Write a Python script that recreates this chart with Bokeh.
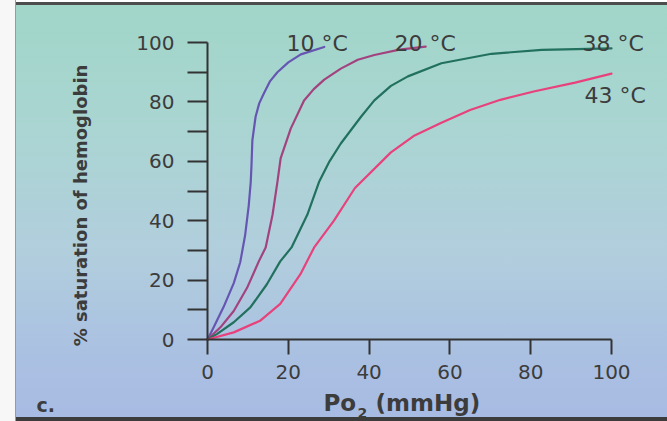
import math
from bokeh.plotting import figure
from bokeh.models import Range1d, FixedTicker, Label
from bokeh.embed import file_html
from bokeh.resources import INLINE

# ---- data ----
x_ticks = [0, 20, 40, 60, 80, 100]
y_ticks = [0, 20, 40, 60, 80, 100]
y_minor = [10, 30, 50, 70, 90]

po2_10 = [0, 1.5, 4.0, 6.5, 8.1, 9.3, 10.2, 10.7, 10.9, 11.1, 11.9, 12.8, 14.0, 15.5, 17.3, 20.0, 23.1, 28.9]
sat_10 = [0, 4, 11, 19, 26, 35, 45, 53, 59, 67, 75, 79.5, 83, 87, 90, 93.3, 96, 98.5]

po2_20 = [0, 3.2, 6.5, 9.8, 12.7, 14.4, 16.1, 17.3, 18.1, 20.6, 23.9, 26.3, 28.9, 33.0, 37.2, 41.3, 47.5, 54.0]
sat_20 = [0, 4.1, 9.6, 17.4, 26.3, 31, 42, 53, 61, 71, 80.5, 84.3, 87.5, 91.2, 94.2, 95.8, 97.6, 98.6]

po2_38 = [0, 2.4, 6.5, 10.6, 14.7, 18.0, 20.8, 24.7, 27.6, 30.2, 33.0, 38.0, 41.3, 45.4, 49.6, 57.9, 70.3, 82.7, 100]
sat_38 = [0, 1.9, 5.8, 10.8, 18.6, 26.3, 31, 42, 53, 60, 66, 75, 80.5, 85.4, 88.6, 93, 96.2, 97.5, 98]

po2_43 = [0, 6.5, 13.0, 18.0, 23.0, 26.4, 31.3, 36.5, 45.4, 51.0, 57.9, 65.0, 72.5, 81.0, 91.0, 100]
sat_43 = [0, 2.4, 6.3, 12, 22, 31, 40, 51, 63, 68.5, 73, 77.3, 80.7, 83.6, 86.5, 89.5]

series_names = ["10 °C", "20 °C", "38 °C", "43 °C"]

# ---- layout / styles ----
W, H = 667, 421
FL, FR, FT, FB = 207, 611, 42, 339          # where data 0..100 sits on the canvas
kx = (FR - FL) / 100.0
ky = (FB - FT) / 100.0

def dx(px):
    return (px - FL) / kx

def dy(py):
    return (FB - py) / ky

text_col = "#3c3c3c"
curve_cols = ["#6656b2", "#a2437f", "#22705e", "#e8417b"]
font = "DejaVu Sans"

p = figure(width=W, height=H,
           x_range=Range1d(dx(0), dx(W)), y_range=Range1d(dy(H), dy(0)),
           output_backend="svg", toolbar_location=None,
           min_border=0, min_border_left=0, min_border_right=0,
           min_border_top=0, min_border_bottom=0)

p.styles = {"background": (
    "linear-gradient(90deg, #f7f7f7 0px, #f7f7f7 15px, #9a9a9a 15px, #9a9a9a 16px, transparent 16px),"
    "linear-gradient(180deg, #ffffff 0px, #ffffff 2px, #4d4d4d 2px, #4d4d4d 5px, transparent 5px),"
    "linear-gradient(0deg, #3c3c3c 0px, #3c3c3c 4px, transparent 4px),"
    "linear-gradient(180deg, #a0d6c8 0%, #aad5d2 30%, #b1cedd 60%, #aac0e2 85%, #a8bbe3 100%)")}
p.background_fill_alpha = 0
p.border_fill_alpha = 0
p.outline_line_color = None
p.grid.visible = False

# axes (drawn at data 0, inside the canvas-wide frame)
p.xaxis.ticker = FixedTicker(ticks=x_ticks)
p.yaxis.ticker = FixedTicker(ticks=y_ticks, minor_ticks=y_minor)
for ax in (p.xaxis[0], p.yaxis[0]):
    ax.fixed_location = 0
    ax.bounds = (0, 100)
    ax.axis_line_color = "#333333"
    ax.axis_line_width = 2
    ax.major_tick_line_color = "#333333"
    ax.major_tick_line_width = 2
    ax.major_tick_in = 0
    ax.major_label_text_font = font
    ax.major_label_text_font_size = "20px"
    ax.major_label_text_color = text_col
p.xaxis.major_tick_out = 15
p.xaxis.minor_tick_line_color = None
p.xaxis.major_label_standoff = 10
p.yaxis.major_tick_out = 20
p.yaxis.minor_tick_out = 20
p.yaxis.minor_tick_in = 0
p.yaxis.minor_tick_line_color = "#333333"
p.yaxis.minor_tick_line_width = 2
p.yaxis.major_label_standoff = 13

# curves
for xs, ys, c in zip([po2_10, po2_20, po2_38, po2_43],
                     [sat_10, sat_20, sat_38, sat_43], curve_cols):
    p.line(xs, ys, line_color=c, line_width=2.2, line_join="round", line_cap="round")

# curve labels (left edge / baseline in canvas pixels)
label_px = [(286, 43), (394, 43), (582, 43), (584, 95)]
for name, (lx, ly) in zip(series_names, label_px):
    p.add_layout(Label(x=dx(lx), y=dy(ly), text=name, text_font=font, text_font_size="22px",
                       text_color=text_col, text_align="left", text_baseline="alphabetic"))

# axis titles
p.add_layout(Label(x=dx(80), y=dy(205), text="% saturation of hemoglobin", angle=math.pi / 2,
                   text_font=font, text_font_style="bold", text_font_size="18px",
                   text_color=text_col, text_align="center", text_baseline="middle"))
p.add_layout(Label(x=dx(323), y=dy(402), text="Po", text_font=font, text_font_style="bold",
                   text_font_size="23px", text_color=text_col, text_align="left",
                   text_baseline="alphabetic"))
p.add_layout(Label(x=dx(357), y=dy(412), text="2", text_font=font, text_font_style="bold",
                   text_font_size="14px", text_color=text_col, text_align="left",
                   text_baseline="alphabetic"))
p.add_layout(Label(x=dx(375), y=dy(402), text="(mmHg)", text_font=font, text_font_style="bold",
                   text_font_size="23px", text_color=text_col, text_align="left",
                   text_baseline="alphabetic"))
p.add_layout(Label(x=dx(36), y=dy(404), text="c.", text_font=font, text_font_style="bold",
                   text_font_size="19px", text_color=text_col, text_align="left",
                   text_baseline="alphabetic"))

open("out.html", "w").write(file_html(p, INLINE))
